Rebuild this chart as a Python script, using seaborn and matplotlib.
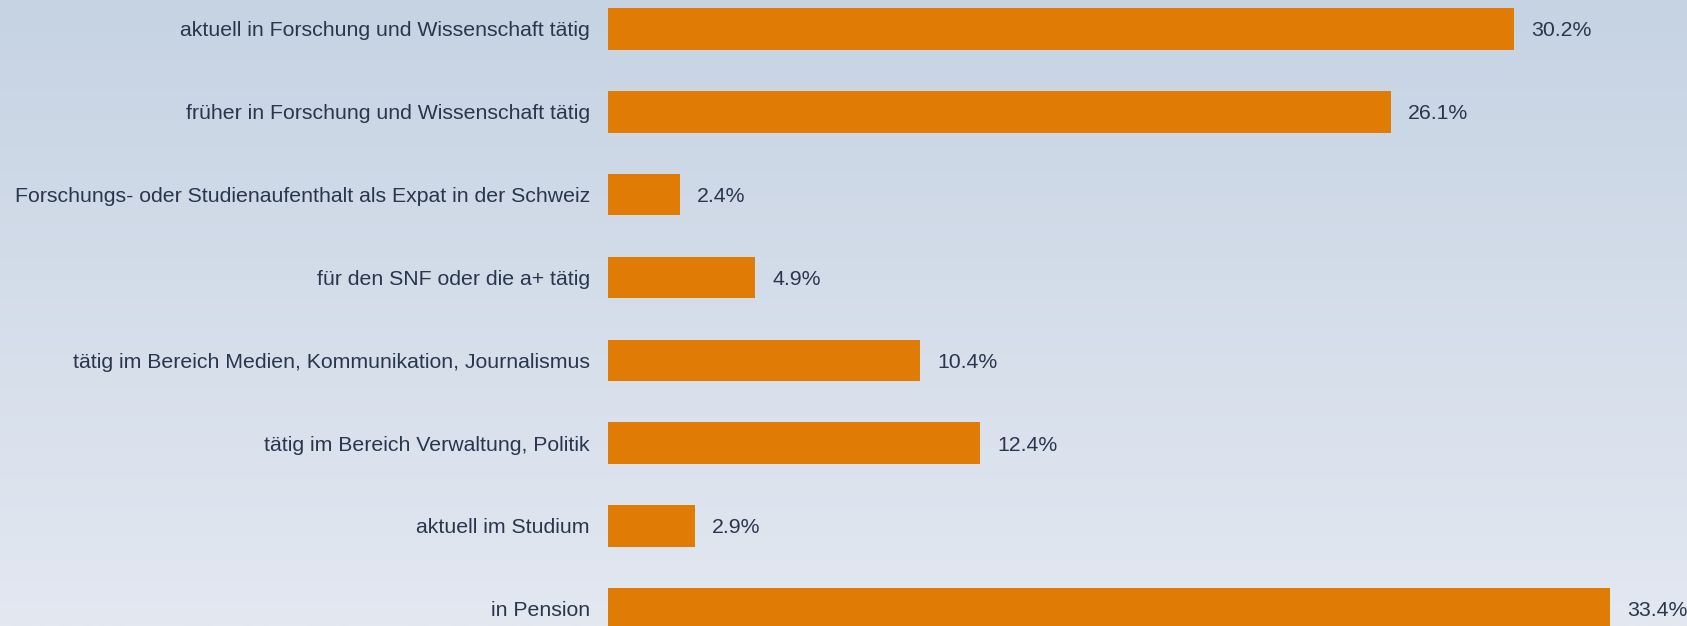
import numpy as np
import pandas as pd
import matplotlib.pyplot as plt
import seaborn as sns

categories = [
    "aktuell in Forschung und Wissenschaft tätig",
    "früher in Forschung und Wissenschaft tätig",
    "Forschungs- oder Studienaufenthalt als Expat in der Schweiz",
    "für den SNF oder die a+ tätig",
    "tätig im Bereich Medien, Kommunikation, Journalismus",
    "tätig im Bereich Verwaltung, Politik",
    "aktuell im Studium",
    "in Pension",
]
values = [30.2, 26.1, 2.4, 4.9, 10.4, 12.4, 2.9, 33.4]

df = pd.DataFrame({"kategorie": categories, "anteil": values})

sns.set_style("white")
plt.rcParams["font.family"] = ["Liberation Sans", "DejaVu Sans"]

W, H = 1687, 626
fig = plt.figure(figsize=(W / 100, H / 100), dpi=100)

# background gradient
bg = fig.add_axes([0, 0, 1, 1])
grad = np.linspace(0, 1, 256).reshape(-1, 1)
top = np.array([0xc6, 0xd3, 0xe3]) / 255
bot = np.array([0xe3, 0xe8, 0xf1]) / 255
img = top + (bot - top) * grad[..., None]
bg.imshow(img, aspect="auto", extent=[0, 1, 0, 1], origin="upper")
bg.axis("off")

ax = fig.add_axes([608 / W, 0, (W - 608) / W, 1])
ax.patch.set_alpha(0)
sns.barplot(data=df, x="anteil", y="kategorie", color="#e07b05",
            saturation=1, width=0.5, linewidth=0, ax=ax)
ax.set_xlim(0, (W - 608) / 30.0)
ax.set_ylim(7.208, -0.35)

txt = "#2a364d"
for i, v in enumerate(values):
    ax.text(v + 0.57, i, f"{v}%", va="center_baseline", ha="left",
            fontsize=15.3, color=txt)

ax.set_xlabel("")
ax.set_ylabel("")
ax.set_xticks([])
ax.tick_params(axis="y", length=0, pad=13, labelsize=15.3, labelcolor=txt)
sns.despine(ax=ax, left=True, bottom=True)

fig.savefig("out.png", dpi=100)
